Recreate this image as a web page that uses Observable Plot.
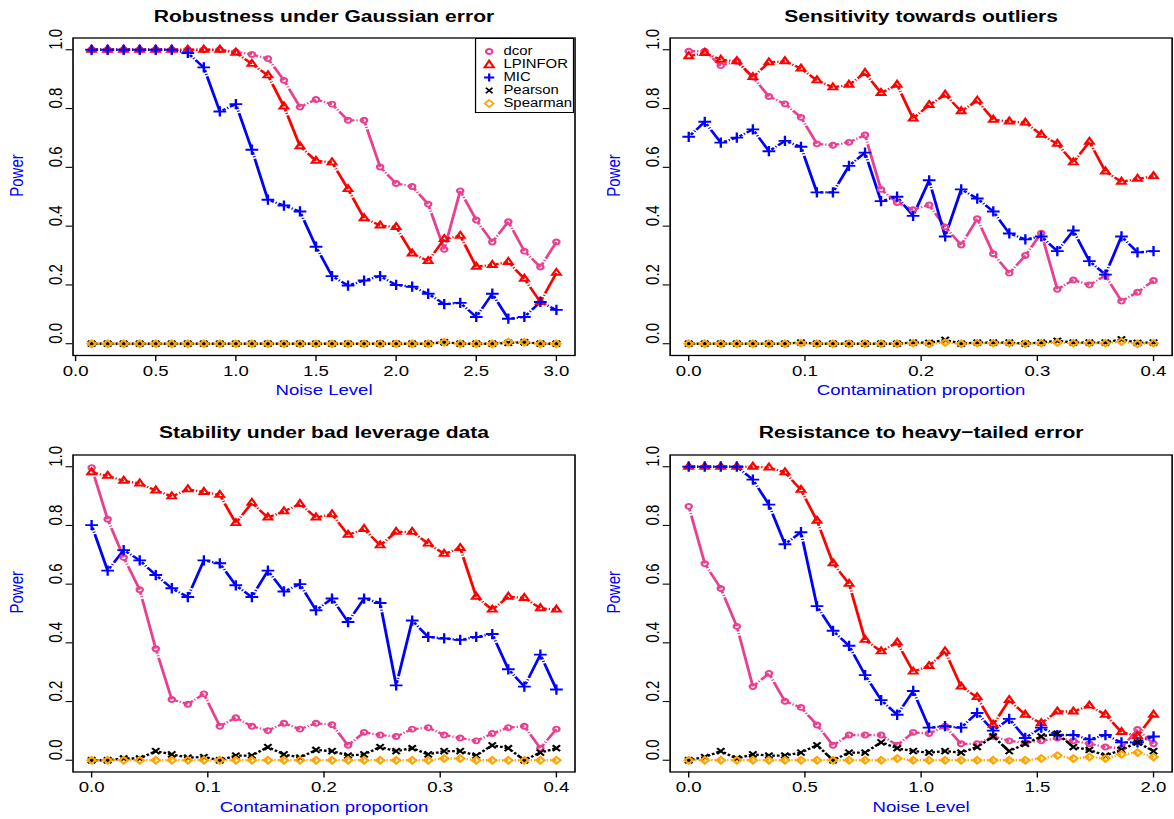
<!DOCTYPE html>
<html><head><meta charset="utf-8">
<script src="https://cdn.jsdelivr.net/npm/d3@7"></script>
<script src="https://cdn.jsdelivr.net/npm/@observablehq/plot@0.6"></script>
<style>
html,body{margin:0;padding:0;background:#fff;overflow:hidden;}
#wrap{position:relative;width:946.774px;height:819px;transform:scaleX(1.24);transform-origin:0 0;font-family:"Liberation Sans",Arial,sans-serif;}
.panel{position:absolute;}
.legend{position:absolute;left:383px;top:37.5px;width:80.2px;height:75.5px;border:1.3px solid #000;box-sizing:border-box;background:#fff;font-size:12px;}
.legend .row{position:absolute;left:0;height:13px;line-height:13px;}
.legend svg{position:absolute;left:0;top:0;overflow:visible;}
.legend span{position:absolute;left:22px;top:0;white-space:nowrap;}
</style></head><body><div id="wrap"></div>
<script>
const methods = ["dcor", "LPINFOR", "MIC", "Pearson", "Spearman"];
const colors = ["#EA3F8F", "#FF0000", "#0000FF", "#000000", "#FFA500"];
const symbols = ["circle", "triangle2", "plus", "times", "diamond2"];
const yTicks = [0, 0.2, 0.4, 0.6, 0.8, 1.0];

// Panel 1: Robustness under Gaussian error
const gaussX = [0.1,0.2,0.3,0.4,0.5,0.6,0.7,0.8,0.9,1.0,1.1,1.2,1.3,1.4,1.5,1.6,1.7,1.8,1.9,2.0,2.1,2.2,2.3,2.4,2.5,2.6,2.7,2.8,2.9,3.0];
const gaussDcor = [1,1,1,1,1,1,1,1,1,0.993,0.984,0.970,0.896,0.805,0.831,0.815,0.760,0.760,0.601,0.545,0.535,0.475,0.321,0.520,0.421,0.346,0.415,0.315,0.261,0.346];
const gaussLpinfor = [1,1,1,1,1,1,1,1,1,0.990,0.952,0.913,0.807,0.672,0.622,0.617,0.526,0.427,0.402,0.397,0.307,0.281,0.356,0.367,0.262,0.268,0.278,0.221,0.142,0.241];
const gaussMic = [1,1,1,1,1,1,0.989,0.940,0.790,0.815,0.660,0.490,0.470,0.450,0.330,0.230,0.198,0.215,0.230,0.200,0.194,0.170,0.135,0.139,0.091,0.170,0.085,0.091,0.142,0.115];
const gaussPearson = [0,0,0,0,0,0,0,0,0,0,0,0,0,0,0,0,0,0,0,0,0,0,0.005,0,0,0,0.003,0.005,0,0];
const gaussSpearman = [0,0,0,0,0,0,0,0,0,0,0,0,0,0,0,0,0,0,0,0,0,0,0.005,0,0,0,0.006,0.005,0,0];

// Panels 2 and 3: contamination proportion grid
const contamX = [0,0.0138,0.0276,0.0414,0.0552,0.0690,0.0828,0.0966,0.1103,0.1241,0.1379,0.1517,0.1655,0.1793,0.1931,0.2069,0.2207,0.2345,0.2483,0.2621,0.2759,0.2897,0.3034,0.3172,0.3310,0.3448,0.3586,0.3724,0.3862,0.4];

// Panel 2: Sensitivity towards outliers
const outDcor = [0.995,0.995,0.946,0.961,0.907,0.841,0.816,0.770,0.680,0.675,0.685,0.710,0.525,0.480,0.456,0.472,0.397,0.336,0.425,0.306,0.240,0.300,0.376,0.185,0.217,0.200,0.232,0.145,0.175,0.215];
const outLpinfor = [0.978,0.989,0.966,0.961,0.907,0.957,0.961,0.936,0.896,0.872,0.881,0.921,0.853,0.881,0.766,0.812,0.847,0.791,0.827,0.762,0.756,0.752,0.711,0.680,0.617,0.687,0.586,0.551,0.561,0.570];
const outMic = [0.704,0.755,0.684,0.701,0.729,0.655,0.690,0.670,0.515,0.515,0.605,0.650,0.485,0.500,0.435,0.556,0.365,0.525,0.494,0.450,0.375,0.355,0.365,0.315,0.385,0.281,0.235,0.365,0.311,0.315];
const outPearson = [0,0,0,0,0,0,0,0.004,0,0,0,0,0,0,0.004,0.003,0.013,0,0.004,0.004,0.004,0,0.004,0.010,0.004,0.004,0.004,0.015,0.003,0.004];
const outSpearman = [0,0,0,0,0,0,0,0.002,0,0,0,0,0,0,0.002,0,0.004,0,0.002,0.002,0.002,0,0.002,0.004,0.002,0.002,0.002,0.007,0,0.002];

// Panel 3: Stability under bad leverage data
const levDcor = [0.997,0.821,0.691,0.581,0.380,0.207,0.191,0.226,0.116,0.145,0.116,0.101,0.126,0.106,0.126,0.121,0.051,0.095,0.086,0.081,0.106,0.111,0.086,0.076,0.066,0.091,0.111,0.116,0.041,0.106];
const levLpinfor = [0.981,0.969,0.952,0.943,0.919,0.899,0.923,0.914,0.904,0.808,0.877,0.827,0.848,0.873,0.827,0.838,0.768,0.788,0.732,0.778,0.778,0.738,0.703,0.723,0.557,0.513,0.557,0.553,0.518,0.513];
const levMic = [0.801,0.646,0.716,0.681,0.631,0.586,0.556,0.681,0.671,0.596,0.556,0.646,0.575,0.600,0.511,0.551,0.471,0.551,0.536,0.255,0.476,0.420,0.415,0.410,0.420,0.430,0.310,0.251,0.360,0.241];
const levPearson = [0,0,0.006,0.006,0.031,0.020,0.009,0.011,0,0.016,0.016,0.045,0.020,0.009,0.035,0.031,0.016,0.020,0.045,0.031,0.041,0.020,0.031,0.031,0.016,0.051,0.041,0,0.026,0.041];
const levSpearman = [0,0,0,0,0,0,0,0,0,0,0,0,0,0,0,0,0,0,0,0,0,0,0.006,0.006,0,0,0,0,0,0];

// Panel 4: Resistance to heavy-tailed error
const heavyX = [0,0.069,0.138,0.207,0.276,0.345,0.414,0.483,0.552,0.621,0.690,0.759,0.828,0.897,0.966,1.034,1.103,1.172,1.241,1.310,1.379,1.448,1.517,1.586,1.655,1.724,1.793,1.862,1.931,2.0];
const heavyDcor = [0.865,0.670,0.585,0.456,0.251,0.296,0.201,0.180,0.120,0.051,0.086,0.086,0.086,0.051,0.095,0.091,0.116,0.056,0.056,0.081,0.066,0.060,0.066,0.076,0.066,0.056,0.045,0.041,0.105,0.056];
const heavyLpinfor = [1,1,1,1,1,0.997,0.981,0.921,0.816,0.671,0.601,0.410,0.371,0.401,0.302,0.321,0.371,0.251,0.215,0.121,0.205,0.155,0.126,0.166,0.166,0.186,0.155,0.096,0.082,0.155];
const heavyMic = [1,1,1,1,0.956,0.871,0.736,0.777,0.525,0.441,0.390,0.290,0.205,0.155,0.236,0.111,0.116,0.111,0.161,0.101,0.141,0.076,0.111,0.086,0.086,0.071,0.086,0.061,0.061,0.081];
const heavyPearson = [0,0.011,0.031,0.006,0.020,0.016,0.016,0.026,0.051,0,0.026,0.026,0.061,0.041,0.031,0.026,0.031,0.026,0.045,0.081,0.031,0.056,0.081,0.091,0.045,0.035,0.016,0.035,0.061,0.031];
const heavySpearman = [0,0,0,0,0,0,0,0,0,0,0,0,0,0.006,0,0,0,0,0,0,0,0,0.006,0.016,0.006,0.011,0.006,0.020,0.026,0.011];

const panels = [
  {title: "Robustness under Gaussian error", xlab: "Noise Level", x: gaussX,
   series: [gaussDcor, gaussLpinfor, gaussMic, gaussPearson, gaussSpearman],
   xTicks: [0, 0.5, 1.0, 1.5, 2.0, 2.5, 3.0], xDomain: [-0.016, 3.116], left: 0, top: 0, legend: true},
  {title: "Sensitivity towards outliers", xlab: "Contamination proportion", x: contamX,
   series: [outDcor, outLpinfor, outMic, outPearson, outSpearman],
   xTicks: [0, 0.1, 0.2, 0.3, 0.4], xDomain: [-0.016, 0.416], left: 1, top: 0},
  {title: "Stability under bad leverage data", xlab: "Contamination proportion", x: contamX,
   series: [levDcor, levLpinfor, levMic, levPearson, levSpearman],
   xTicks: [0, 0.1, 0.2, 0.3, 0.4], xDomain: [-0.016, 0.416], left: 0, top: 1},
  {title: "Resistance to heavy\u2212tailed error", xlab: "Noise Level", x: heavyX,
   series: [heavyDcor, heavyLpinfor, heavyMic, heavyPearson, heavySpearman],
   xTicks: [0, 0.5, 1.0, 1.5, 2.0], xDomain: [-0.08, 2.08], left: 1, top: 1}
];

const S = 1.24;
const W = 1174 / S / 2, H = 409.5;
const dashes = [
  "0,2.6,2.6,1.6,1,1.6,1000",
  "0,2.6,2.6,1.6,1,1.6,1000",
  "0,2.6,2.6,1.6,1,1.6,1000",
  "0,2.6,2.2,1.6,2.2,1.6,1000",
  "0,2.6,1,1.6,1,1.6,1,1.6,1000"
];
const radii = [2.5, 3.3, 3.4, 2.8, 3.0];

const wrap = document.getElementById("wrap");
const fmt = d => d.toFixed(1);

for (const p of panels) {
  const mLeft = p.left ? (670 / S - W) : 72.4 / S;
  const mRight = p.left ? (2 * W - 1172 / S) : (W - 574.4 / S);
  const mTop = p.top ? 454 - H : 37.5;
  const mBottom = p.top ? 2 * H - 771 : H - 355;
  const titleY = p.top ? 432 - H : 16;
  const pts = [], segs = [];
  p.series.forEach((vals, si) => {
    vals.forEach((v, i) => {
      pts.push({m: methods[si], x: p.x[i], y: v});
      if (i > 0) segs.push({m: methods[si], x1: p.x[i - 1], y1: vals[i - 1], x2: p.x[i], y2: v});
    });
  });
  const marks = [];
  methods.forEach((m, si) => {
    marks.push(Plot.link(segs.filter(d => d.m === m), {x1: "x1", y1: "y1", x2: "x2", y2: "y2",
      stroke: colors[si], strokeWidth: 2.3, strokeDasharray: dashes[si]}));
  });
  methods.forEach((m, si) => {
    marks.push(Plot.dot(pts.filter(d => d.m === m), {x: "x", y: "y", symbol: symbols[si], r: radii[si],
      stroke: colors[si], strokeWidth: 1.9, fill: "none"}));
  });
  marks.push(
    Plot.frame({stroke: "#000", strokeWidth: 1.3}),
    Plot.axisX({ticks: p.xTicks, tickSize: 6, tickFormat: () => "", label: null, strokeWidth: 1.1}),
    Plot.axisY({ticks: yTicks, tickSize: 5.5, tickFormat: () => "", label: null, strokeWidth: 1.1}),
    Plot.text(p.xTicks, {x: d => d, text: fmt, frameAnchor: "bottom", dy: 15.5, lineAnchor: "middle", fontSize: 15}),
    Plot.text(yTicks, {y: d => d, text: fmt, frameAnchor: "left", dx: -14, rotate: -90, lineAnchor: "middle", fontSize: 15}),
    Plot.text([p.title], {text: d => d, frameAnchor: "top", dy: titleY - mTop, lineAnchor: "middle", fontSize: 17, fontWeight: "bold"}),
    Plot.text([p.xlab], {text: d => d, frameAnchor: "bottom", dy: 35, lineAnchor: "middle", fontSize: 15, fill: "#0000FF"}),
    Plot.text(["Power"], {text: d => d, frameAnchor: "left", dx: -45, rotate: -90, lineAnchor: "middle", fontSize: 15, fill: "#0000FF"})
  );
  const svg = Plot.plot({
    width: W, height: H,
    marginLeft: mLeft, marginRight: mRight, marginTop: mTop, marginBottom: mBottom,
    x: {domain: p.xDomain}, y: {domain: [-0.04, 1.04]},
    style: {fontFamily: "Liberation Sans, Arial, sans-serif", fontSize: "15px", background: "transparent", overflow: "visible", color: "#000"},
    marks
  });
  const div = document.createElement("div");
  div.className = "panel";
  div.style.left = (p.left * W) + "px";
  div.style.top = (p.top * H) + "px";
  div.appendChild(svg);
  wrap.appendChild(div);

  if (p.legend) {
    const lg = document.createElement("div");
    lg.className = "legend";
    const shapes = [
      c => `<circle cx="6.5" cy="6.5" r="2.5" fill="none" stroke="${c}" stroke-width="1.8"/>`,
      c => `<path d="M6.5,2.6L10.2,9.3L2.8,9.3Z" fill="none" stroke="${c}" stroke-width="1.8"/>`,
      c => `<path d="M6.5,2.4V10.6M2.4,6.5H10.6" stroke="${c}" stroke-width="1.8"/>`,
      c => `<path d="M3.8,3.8L9.2,9.2M9.2,3.8L3.8,9.2" stroke="${c}" stroke-width="1.6"/>`,
      c => `<path d="M6.5,3L10,6.5L6.5,10L3,6.5Z" fill="none" stroke="${c}" stroke-width="1.6"/>`
    ];
    methods.forEach((m, si) => {
      const row = document.createElement("div");
      row.className = "row";
      row.style.top = (6.7 + si * 12.9) + "px";
      row.innerHTML = `<svg width="13" height="13" style="left:3.5px">${shapes[si](colors[si])}</svg><span>${m}</span>`;
      lg.appendChild(row);
    });
    div.appendChild(lg);
  }
}
</script>
</body></html>
